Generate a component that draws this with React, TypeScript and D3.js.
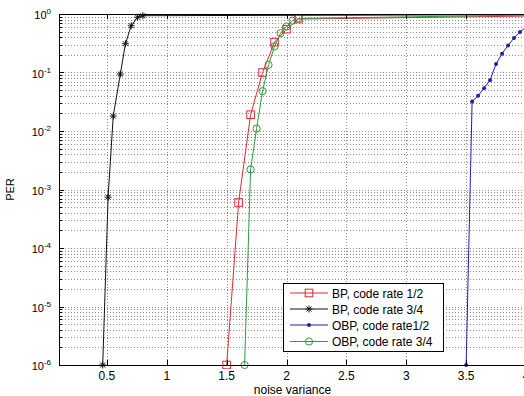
import React from 'react';
import * as d3 from 'd3';

// BP, code rate 1/2 (red squares)
const bp12X = [1.5, 1.6, 1.7, 1.8, 1.9, 2.0, 2.1, 4.5];
const bp12Y = [1e-6, 6e-4, 0.019, 0.1, 0.33, 0.55, 0.82, 0.95];

// BP, code rate 3/4 (black stars)
const bp34X = [0.465, 0.51, 0.553, 0.612, 0.655, 0.703, 0.756, 0.8, 4.5];
const bp34Y = [1e-6, 7.4e-4, 0.018, 0.094, 0.31, 0.63, 0.88, 0.935, 0.98];

// OBP, code rate1/2 (blue dots)
const obp12X = [3.5, 3.55, 3.6, 3.65, 3.7, 3.75, 3.8, 3.85, 3.9, 3.95, 4.0];
const obp12Y = [1e-6, 0.032, 0.04, 0.054, 0.074, 0.14, 0.21, 0.29, 0.39, 0.49, 0.6];

// OBP, code rate 3/4 (green circles)
const obp34X = [1.65, 1.7, 1.75, 1.8, 1.85, 1.9, 1.95, 2.0, 2.05, 2.1, 4.5];
const obp34Y = [1e-6, 2.2e-3, 0.011, 0.048, 0.135, 0.28, 0.47, 0.61, 0.77, 0.84, 0.99];

const xTicks = [0.5, 1, 1.5, 2, 2.5, 3, 3.5, 4];
const yExponents = [-6, -5, -4, -3, -2, -1, 0];

const legendLabels = [
  'BP, code rate 1/2',
  'BP, code rate 3/4',
  'OBP, code rate1/2',
  'OBP, code rate 3/4',
];

const FONT = '"Liberation Sans", Arial, Helvetica, sans-serif';

type Marker = 'square' | 'star' | 'dot' | 'circle';

const series = [
  { xs: bp12X, ys: bp12Y, color: '#dd2a35', marker: 'square' as Marker },
  { xs: bp34X, ys: bp34Y, color: '#111111', marker: 'star' as Marker },
  { xs: obp12X, ys: obp12Y, color: '#2020b0', marker: 'dot' as Marker },
  { xs: obp34X, ys: obp34Y, color: '#2f9a3f', marker: 'circle' as Marker },
];

const MarkerShape: React.FC<{ type: Marker; cx: number; cy: number; color: string }> = ({ type, cx, cy, color }) => {
  if (type === 'square') {
    return <rect x={cx - 3.8} y={cy - 3.8} width={7.6} height={7.6} fill="none" stroke={color} strokeWidth={1} />;
  }
  if (type === 'circle') {
    return <circle cx={cx} cy={cy} r={3.6} fill="none" stroke={color} strokeWidth={1} />;
  }
  if (type === 'dot') {
    return <circle cx={cx} cy={cy} r={2} fill={color} />;
  }
  const r = 3.5;
  const d = r * 0.72;
  return (
    <path
      d={`M${cx - r},${cy}H${cx + r}M${cx},${cy - r}V${cy + r}M${cx - d},${cy - d}L${cx + d},${cy + d}M${cx - d},${cy + d}L${cx + d},${cy - d}`}
      stroke={color}
      strokeWidth={1}
      fill="none"
    />
  );
};

export default function App() {
  const W = 524;
  const H = 396;
  // plot box
  const PL = 59, PR = 526, PT = 14, PB = 365;

  const x = d3.scaleLinear().domain([0.1, 4]).range([PL, PR]);
  const y = d3.scaleLog().domain([1e-6, 1]).range([PB, PT]);

  const line = d3.line<[number, number]>()
    .x(d => x(d[0]))
    .y(d => y(d[1]));

  // minor log values
  const minorVals: number[] = [];
  for (let e = -6; e < 0; e++) {
    for (let m = 2; m <= 9; m++) minorVals.push(m * Math.pow(10, e));
  }

  const gridStyle = { stroke: '#8c8c8c', strokeWidth: 1, strokeDasharray: '1,2' };

  const legX = 283, legY = 283, legW = 160, legH = 68;
  const rowY = [293, 309, 325, 341.5];

  return (
    <svg
      width={W}
      height={H}
      style={{ position: 'absolute', left: 0, top: 0, background: '#ffffff' }}
      fontFamily={FONT}
    >
      <defs>
        <clipPath id="plotClip">
          <rect x={PL} y={PT - 4} width={PR - PL} height={PB - PT + 8} />
        </clipPath>
      </defs>
      <rect x={0} y={0} width={W} height={H} fill="#fff" />

      {/* grid */}
      <g shapeRendering="crispEdges">
        {yExponents.slice(1, -1).map(e => (
          <line key={`gy${e}`} x1={PL} x2={PR} y1={Math.round(y(Math.pow(10, e))) + 0.5} y2={Math.round(y(Math.pow(10, e))) + 0.5} style={gridStyle} />
        ))}
        {minorVals.map((v, i) => (
          <line key={`gm${i}`} x1={PL} x2={PR} y1={Math.round(y(v)) + 0.5} y2={Math.round(y(v)) + 0.5} style={gridStyle} />
        ))}
        {xTicks.map(t => (
          <line key={`gx${t}`} x1={Math.round(x(t)) + 0.5} x2={Math.round(x(t)) + 0.5} y1={PT} y2={PB} style={gridStyle} />
        ))}
      </g>

      {/* series */}
      <g clipPath="url(#plotClip)">
        {series.map((s, i) => {
          const pts = s.xs.map((v, j) => [v, s.ys[j]] as [number, number]);
          return (
            <g key={`s${i}`}>
              <path d={line(pts) || ''} fill="none" stroke={s.color} strokeWidth={1} />
              {pts.map((p, j) => (
                <MarkerShape key={j} type={s.marker} cx={x(p[0])} cy={y(p[1])} color={s.color} />
              ))}
            </g>
          );
        })}
      </g>

      {/* axes box */}
      <rect x={PL + 0.5} y={PT + 0.5} width={PR - PL} height={PB - PT} fill="none" stroke="#000" strokeWidth={1} shapeRendering="crispEdges" />

      {/* ticks */}
      <g shapeRendering="crispEdges">
        {xTicks.map(t => {
          const px = Math.round(x(t)) + 0.5;
          return (
            <g key={`xt${t}`}>
              <line x1={px} x2={px} y1={PB} y2={PB - 5} stroke="#000" />
              <line x1={px} x2={px} y1={PT} y2={PT + 5} stroke="#000" />
            </g>
          );
        })}
        {yExponents.map(e => {
          const py = Math.round(y(Math.pow(10, e))) + 0.5;
          return <line key={`yt${e}`} x1={PL} x2={PL + 5} y1={py} y2={py} stroke="#000" />;
        })}
        {minorVals.map((v, i) => {
          const py = Math.round(y(v)) + 0.5;
          return <line key={`ym${i}`} x1={PL} x2={PL + 3} y1={py} y2={py} stroke="#000" />;
        })}
      </g>

      {/* x tick labels */}
      {xTicks.map(t => (
        <text key={`xl${t}`} x={x(t)} y={380} textAnchor="middle" fontSize={12} fill="#000">
          {d3.format('~g')(t)}
        </text>
      ))}

      {/* y tick labels */}
      {yExponents.map(e => (
        <text key={`yl${e}`} x={51} y={y(Math.pow(10, e)) + 5} textAnchor="end" fontSize={11} fill="#000">
          10
          <tspan dy={-5} fontSize={8}>{e}</tspan>
        </text>
      ))}

      {/* axis titles */}
      <text x={(PL + PR) / 2} y={394} textAnchor="middle" fontSize={12} fill="#000">
        noise variance
      </text>
      <text transform={`translate(14,${(PT + PB) / 2}) rotate(-90)`} textAnchor="middle" fontSize={11} fill="#000">
        PER
      </text>

      {/* legend */}
      <rect x={legX + 0.5} y={legY + 0.5} width={legW} height={legH} fill="#fff" stroke="#000" strokeWidth={1} shapeRendering="crispEdges" />
      {series.map((s, i) => (
        <g key={`lg${i}`}>
          <line x1={290} x2={328} y1={rowY[i]} y2={rowY[i]} stroke={s.color} strokeWidth={1} />
          <MarkerShape type={s.marker} cx={309} cy={rowY[i]} color={s.color} />
          <text x={332} y={rowY[i] + 4.5} fontSize={12} fill="#000">
            {legendLabels[i]}
          </text>
        </g>
      ))}
    </svg>
  );
}
